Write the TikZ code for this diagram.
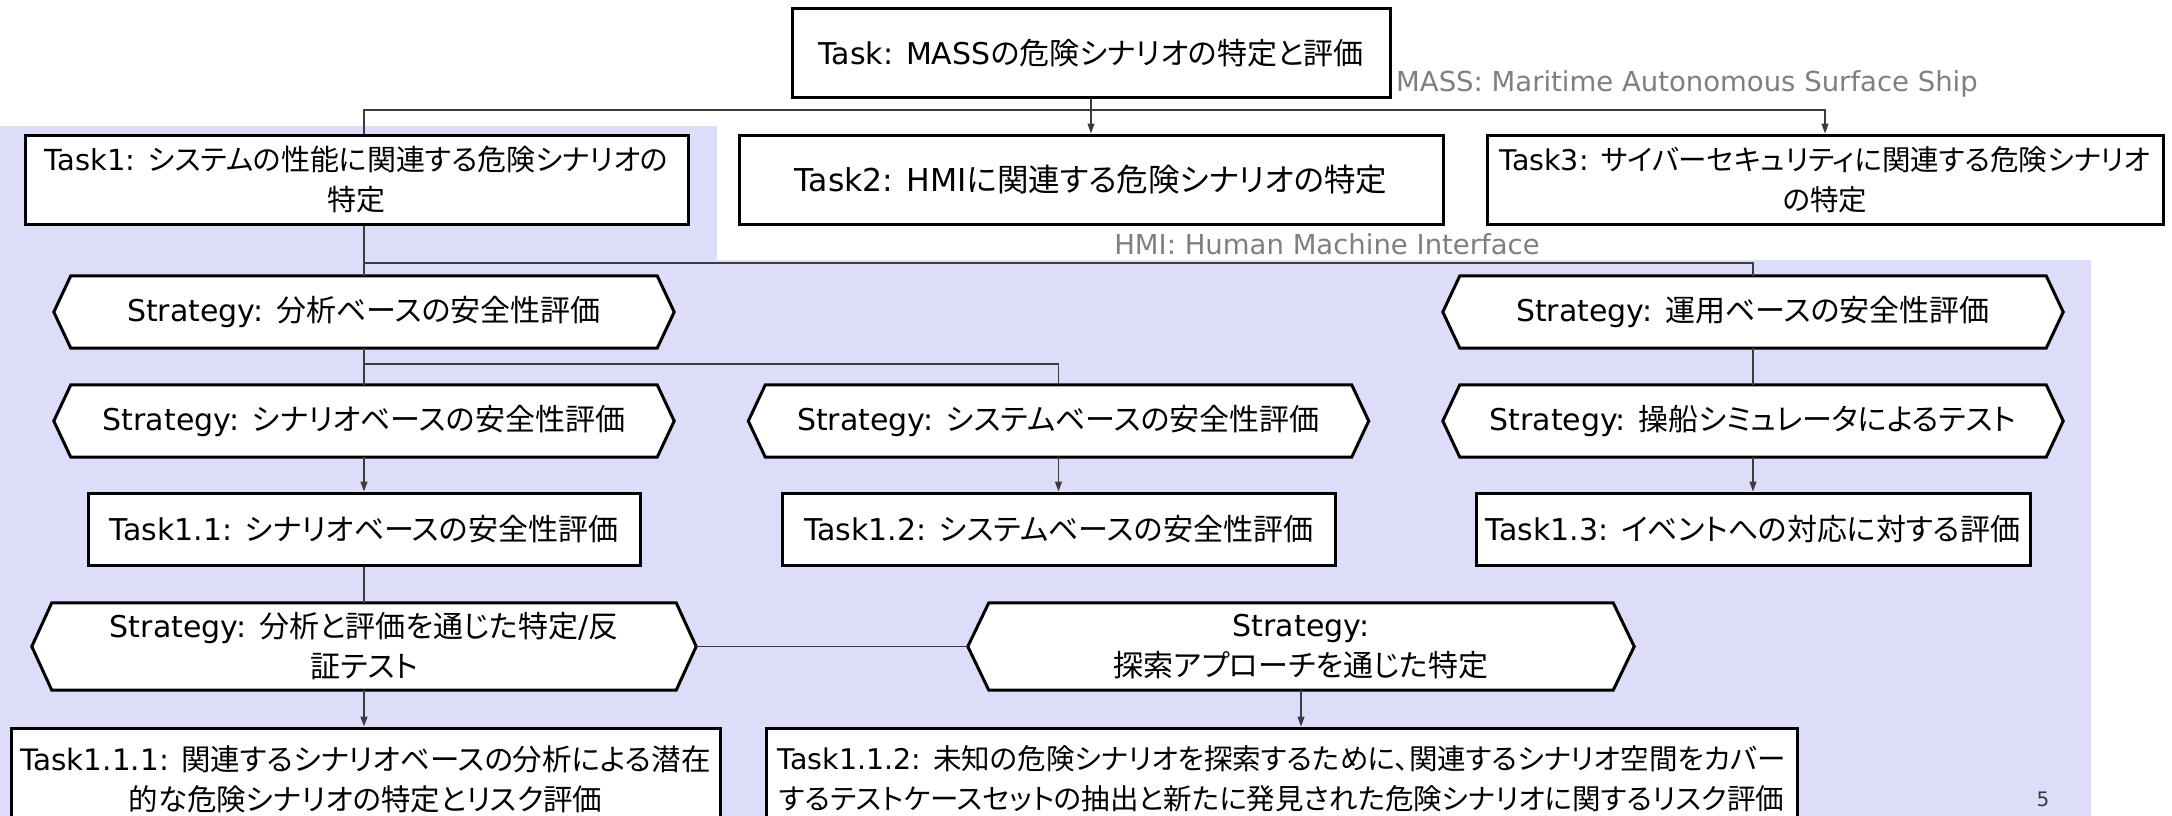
\documentclass[tikz,border=0pt]{standalone}
\usepackage{fontspec}
\setmainfont{DejaVu Sans}
\newfontfamily\jpfont[RawFeature=+palt]{Noto Sans CJK JP}
\newcommand\jp[1]{{\jpfont #1}}
\usetikzlibrary{arrows.meta,calc}
\definecolor{lav}{RGB}{221,221,250}
\definecolor{connc}{RGB}{60,60,60}
\definecolor{notec}{RGB}{127,127,127}
\pgfdeclarelayer{bglayer}
\pgfdeclarelayer{hexlayer}
\pgfsetlayers{bglayer,hexlayer,main}
\newcommand\hexa[2]{%
  \draw[line width=3pt,fill=white,line join=miter]
    (#1.west) -- ($(#1.north west)+(#2,0)$) -- ($(#1.north east)+(-#2,0)$)
    -- (#1.east) -- ($(#1.south east)+(-#2,0)$) -- ($(#1.south west)+(#2,0)$) -- cycle;}
\begin{document}
\begin{tikzpicture}[x=1pt,y=-1pt,
  box/.style={draw=black,line width=3pt,fill=white,inner sep=0pt,align=center,
    font=\fontsize{30}{40}\selectfont},
  strat/.style={inner sep=0pt,align=center,font=\fontsize{30}{40}\selectfont},
  conn/.style={draw=connc,line width=1.3pt},
  arr/.style={conn,-{Triangle[length=10pt,width=7pt]}},
  notetext/.style={text=notec,font=\fontsize{27.5}{34}\selectfont,inner sep=0pt}
]
\useasboundingbox (0,0) rectangle (2172,816);
% lavender regions
\begin{pgfonlayer}{bglayer}
\fill[lav] (0,126) rectangle (717,260);
\fill[lav] (0,260) rectangle (2091,816);
\end{pgfonlayer}

% level 0
\node[box,minimum width=598pt,minimum height=88pt] (t0) at (1091,53)
  {Task: MASS\jp{の危険シナリオの特定と評価}};
\node[notetext,anchor=west] (mass) at (1396,84) {MASS: Maritime Autonomous Surface Ship};

% level 1
\node[box,minimum width=663pt,minimum height=89pt,font=\fontsize{29}{40}\selectfont] (t1) at (356.5,179.5)
  {Task1: \jp{システムの性能に関連する危険シナリオの}\\\jp{特定}};
\node[box,minimum width=704pt,minimum height=89pt,font=\fontsize{31.5}{40}\selectfont] (t2) at (1091,179.5)
  {Task2: HMI\jp{に関連する危険シナリオの特定}};
\node[box,minimum width=676pt,minimum height=89pt,font=\fontsize{28.5}{40}\selectfont] (t3) at (1825,179.5)
  {Task3: \jp{サイバーセキュリティに関連する危険シナリオ}\\\jp{の特定}};
\node[notetext] (hmi) at (1327,244) {HMI: Human Machine Interface};

% strategies level 2
\node[strat,minimum width=620pt,minimum height=72pt] (s1) at (364,312)
  {Strategy: \jp{分析ベースの安全性評価}};
\node[strat,minimum width=620pt,minimum height=72pt] (s2) at (1753,312)
  {Strategy: \jp{運用ベースの安全性評価}};

% strategies level 3
\node[strat,minimum width=620pt,minimum height=72pt] (s11) at (364,421)
  {Strategy: \jp{シナリオベースの安全性評価}};
\node[strat,minimum width=620pt,minimum height=72pt] (s12) at (1058.5,421)
  {Strategy: \jp{システムベースの安全性評価}};
\node[strat,minimum width=620pt,minimum height=72pt] (s13) at (1753,421)
  {Strategy: \jp{操船シミュレータによるテスト}};

% tasks level 4
\node[box,minimum width=552pt,minimum height=72pt] (t11) at (364,529)
  {Task1.1: \jp{シナリオベースの安全性評価}};
\node[box,minimum width=553pt,minimum height=72pt] (t12) at (1058.5,529)
  {Task1.2: \jp{システムベースの安全性評価}};
\node[box,minimum width=554pt,minimum height=72pt] (t13) at (1753,529)
  {Task1.3: \jp{イベントへの対応に対する評価}};

% strategies level 5
\node[strat,minimum width=664pt,minimum height=87pt] (s21) at (364,646.5)
  {Strategy: \jp{分析と評価を通じた特定}/\jp{反}\\\jp{証テスト}};
\node[strat,minimum width=666pt,minimum height=87pt] (s22) at (1301,646.5)
  {Strategy:\\\jp{探索アプローチを通じた特定}};

% tasks level 6
\node[box,minimum width=709pt,minimum height=102pt,font=\fontsize{29.5}{40}\selectfont] (t111) at (365.5,779)
  {Task1.1.1: \jp{関連するシナリオベースの分析による潜在}\\\jp{的な危険シナリオの特定とリスク評価}};
\node[box,minimum width=1031pt,minimum height=102pt,font=\fontsize{28.5}{40}\selectfont] (t112) at (1281.5,779)
  {Task1.1.2: \jp{未知の危険シナリオを探索するために、関連するシナリオ空間をカバー}\\\jp{するテストケースセットの抽出と新たに発見された危険シナリオに関するリスク評価}};

\node[text=connc,font=\fontsize{20}{22}\selectfont,inner sep=0pt] (pg) at (2043,799) {5};

% hexagon outlines
\begin{pgfonlayer}{hexlayer}
\hexa{s1}{17}
\hexa{s2}{17}
\hexa{s11}{17}
\hexa{s12}{17}
\hexa{s13}{17}
\hexa{s21}{20}
\hexa{s22}{21}
\end{pgfonlayer}

% connectors
\coordinate (bar0) at (1091,110);
\coordinate (bar1) at (364,263);
\coordinate (bar2) at (364,364);
\draw[conn] (t1.north -| bar1) |- (bar0);
\draw[arr] (t0.south) -- (t0.south |- t2.north);
\draw[arr] (bar0) -| (t3.north);

\draw[conn] (t1.south -| bar1) -- (s1.north);
\draw[conn] (bar1) -| (s2.north);

\draw[conn] (s1.south) -- (s11.north);
\draw[conn] (bar2) -| (s12.north);
\draw[conn] (s2.south) -- (s13.north);

\draw[arr] (s11.south) -- (t11.north);
\draw[arr] (s12.south) -- (t12.north);
\draw[arr] (s13.south) -- (t13.north);

\draw[conn] (t11.south) -- (s21.north);
\draw[conn] (s21.east) -- (s22.west);
\draw[arr] (s21.south) -- (s21.south |- t111.north);
\draw[arr] (s22.south) -- (s22.south |- t112.north);
\end{tikzpicture}
\end{document}
